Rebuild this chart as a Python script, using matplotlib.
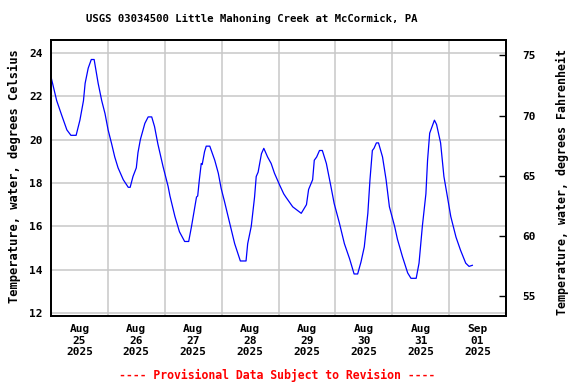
import matplotlib
matplotlib.use("Agg")
import matplotlib.pyplot as plt
import matplotlib.dates as mdates
import pandas as pd
import numpy as np

# hours since 2025-08-25 00:00
hours = [0.0, 2.4, 4.6, 6.7, 8.4, 10.6, 12.2, 13.7, 14.4, 15.7, 17.0, 18.2, 19.9, 21.4, 22.8,
         24.1, 25.6, 26.9, 28.3, 30.5, 32.6, 33.4, 34.6, 36.0, 36.7, 37.7, 39.6, 41.0, 42.5,
         43.7, 45.1, 47.3, 48.0, 49.4, 50.2, 52.3, 54.2, 56.4, 58.1, 59.3, 60.7, 61.4, 61.9,
         62.6, 63.4, 63.8, 64.8, 65.5, 67.0, 69.1, 70.6, 71.8, 73.2, 75.4, 77.5, 79.0, 79.9,
         82.3, 83.0, 84.5, 85.9, 86.6, 87.4, 88.8, 89.8, 91.4, 92.9, 94.3, 96.5, 98.2, 99.1,
         102.0, 105.6, 107.8, 108.7, 110.4, 111.1, 112.1, 113.3, 114.5, 116.2, 118.1, 119.5,
         121.7, 123.8, 126.0, 127.9, 129.4, 130.8, 132.2, 133.7, 134.6, 135.6, 136.3, 137.3,
         138.2, 139.9, 141.4, 142.8, 145.0, 146.2, 148.3, 150.5, 151.9, 154.1, 155.3, 156.7,
         158.2, 158.9, 159.8, 160.8, 161.8, 162.7, 164.4, 165.8, 167.3, 168.7, 170.9, 172.8,
         175.0, 176.4, 177.8]
temp_c = [22.9, 21.8, 21.1, 20.45, 20.2, 20.2, 20.9, 21.8, 22.6, 23.3, 23.7, 23.7, 22.6, 21.8, 21.2,
          20.45, 19.8, 19.2, 18.7, 18.15, 17.8, 17.8, 18.3, 18.7, 19.4, 20.0, 20.75, 21.05, 21.05,
          20.6, 19.8, 18.75, 18.45, 17.85, 17.4, 16.45, 15.75, 15.3, 15.3, 16.0, 16.9, 17.35, 17.4,
          18.15, 18.9, 18.85, 19.45, 19.7, 19.7, 19.05, 18.45, 17.75, 17.15, 16.15, 15.2, 14.7, 14.4,
          14.4, 15.2, 16.0, 17.35, 18.3, 18.5, 19.35, 19.6, 19.2, 18.9, 18.45, 17.9, 17.5, 17.35,
          16.9, 16.6, 17.0, 17.7, 18.15, 19.05, 19.2, 19.5, 19.5, 18.9, 17.85, 17.05,
          16.15, 15.2, 14.5, 13.8, 13.8, 14.35, 15.05, 16.6, 18.15, 19.5, 19.6, 19.85,
          19.85, 19.2, 18.15, 16.9, 16.0, 15.4, 14.6, 13.85, 13.6, 13.6, 14.3, 16.0,
          17.5, 19.05, 20.3, 20.6, 20.9, 20.7, 19.85, 18.3, 17.35, 16.45, 15.5, 14.9,
          14.3, 14.15, 14.2]

day_labels = ["Aug\n25\n2025", "Aug\n26\n2025", "Aug\n27\n2025", "Aug\n28\n2025",
              "Aug\n29\n2025", "Aug\n30\n2025", "Aug\n31\n2025", "Sep\n01\n2025"]
c_ticks = [12, 14, 16, 18, 20, 22, 24]
f_ticks = [55, 60, 65, 70, 75]

title = "USGS 03034500 Little Mahoning Creek at McCormick, PA"
footer = "---- Provisional Data Subject to Revision ----"

start = pd.Timestamp("2025-08-25")
times = [start + pd.Timedelta(hours=h) for h in hours]

font = dict(family="DejaVu Sans Mono", weight="bold")

fig = plt.figure(figsize=(5.76, 3.84), dpi=100)
ax = fig.add_axes([51/576, 1-316/384, 455/576, 276/384])

ax.plot(times, temp_c, color="#0000ff", linewidth=0.9)

ymin, ymax = 11.86, 24.6
ax.set_ylim(ymin, ymax)
ax.set_xlim(start, start + pd.Timedelta(days=8))

ax.set_yticks(c_ticks)
ax.set_yticklabels([str(v) for v in c_ticks], fontdict=dict(size=8, **font))
ax.tick_params(axis="y", length=0, pad=6)

mid = [mdates.date2num(start + pd.Timedelta(days=i, hours=12)) for i in range(8)]
ax.set_xticks(mid)
ax.set_xticklabels(day_labels, fontdict=dict(size=8, **font), linespacing=1.15)
ax.tick_params(axis="x", length=0, pad=6)
ax.set_xticks([mdates.date2num(start + pd.Timedelta(days=i)) for i in range(1, 8)], minor=True)
ax.tick_params(axis="x", which="minor", length=0)

ax.grid(False)
ax.grid(True, axis="x", which="minor", color="#c8c8c8", linewidth=1.1)
ax.grid(True, axis="y", which="major", color="#c8c8c8", linewidth=1.1)
ax.set_axisbelow(True)
for s in ax.spines.values():
    s.set_linewidth(1.3)
    s.set_color("black")

ax2 = ax.twinx()
ax2.set_ylim(ymin * 1.8 + 32, ymax * 1.8 + 32)
ax2.set_yticks(f_ticks)
ax2.set_yticklabels([str(v) for v in f_ticks], fontdict=dict(size=8, **font))
ax2.tick_params(axis="y", direction="in", length=5, width=1, pad=12)
for s in ax2.spines.values():
    s.set_linewidth(1.3)

fig.text(252/576, 1 - 19/384, title, ha="center", va="center", size=7.7, **font)
fig.text((117 + 438) / 2 / 576, 1 - 375/384, footer, ha="center", va="center", size=8.3, color="#ff0000", **font)
fig.text(14/576, 1 - 176/384, "Temperature, water, degrees Celsius", rotation=90, ha="center", va="center", size=8.7, **font)
fig.text(562/576, 1 - 182/384, "Temperature, water, degrees Fahrenheit", rotation=90, ha="center", va="center", size=8.4, **font)

fig.savefig("out.png", dpi=100)
